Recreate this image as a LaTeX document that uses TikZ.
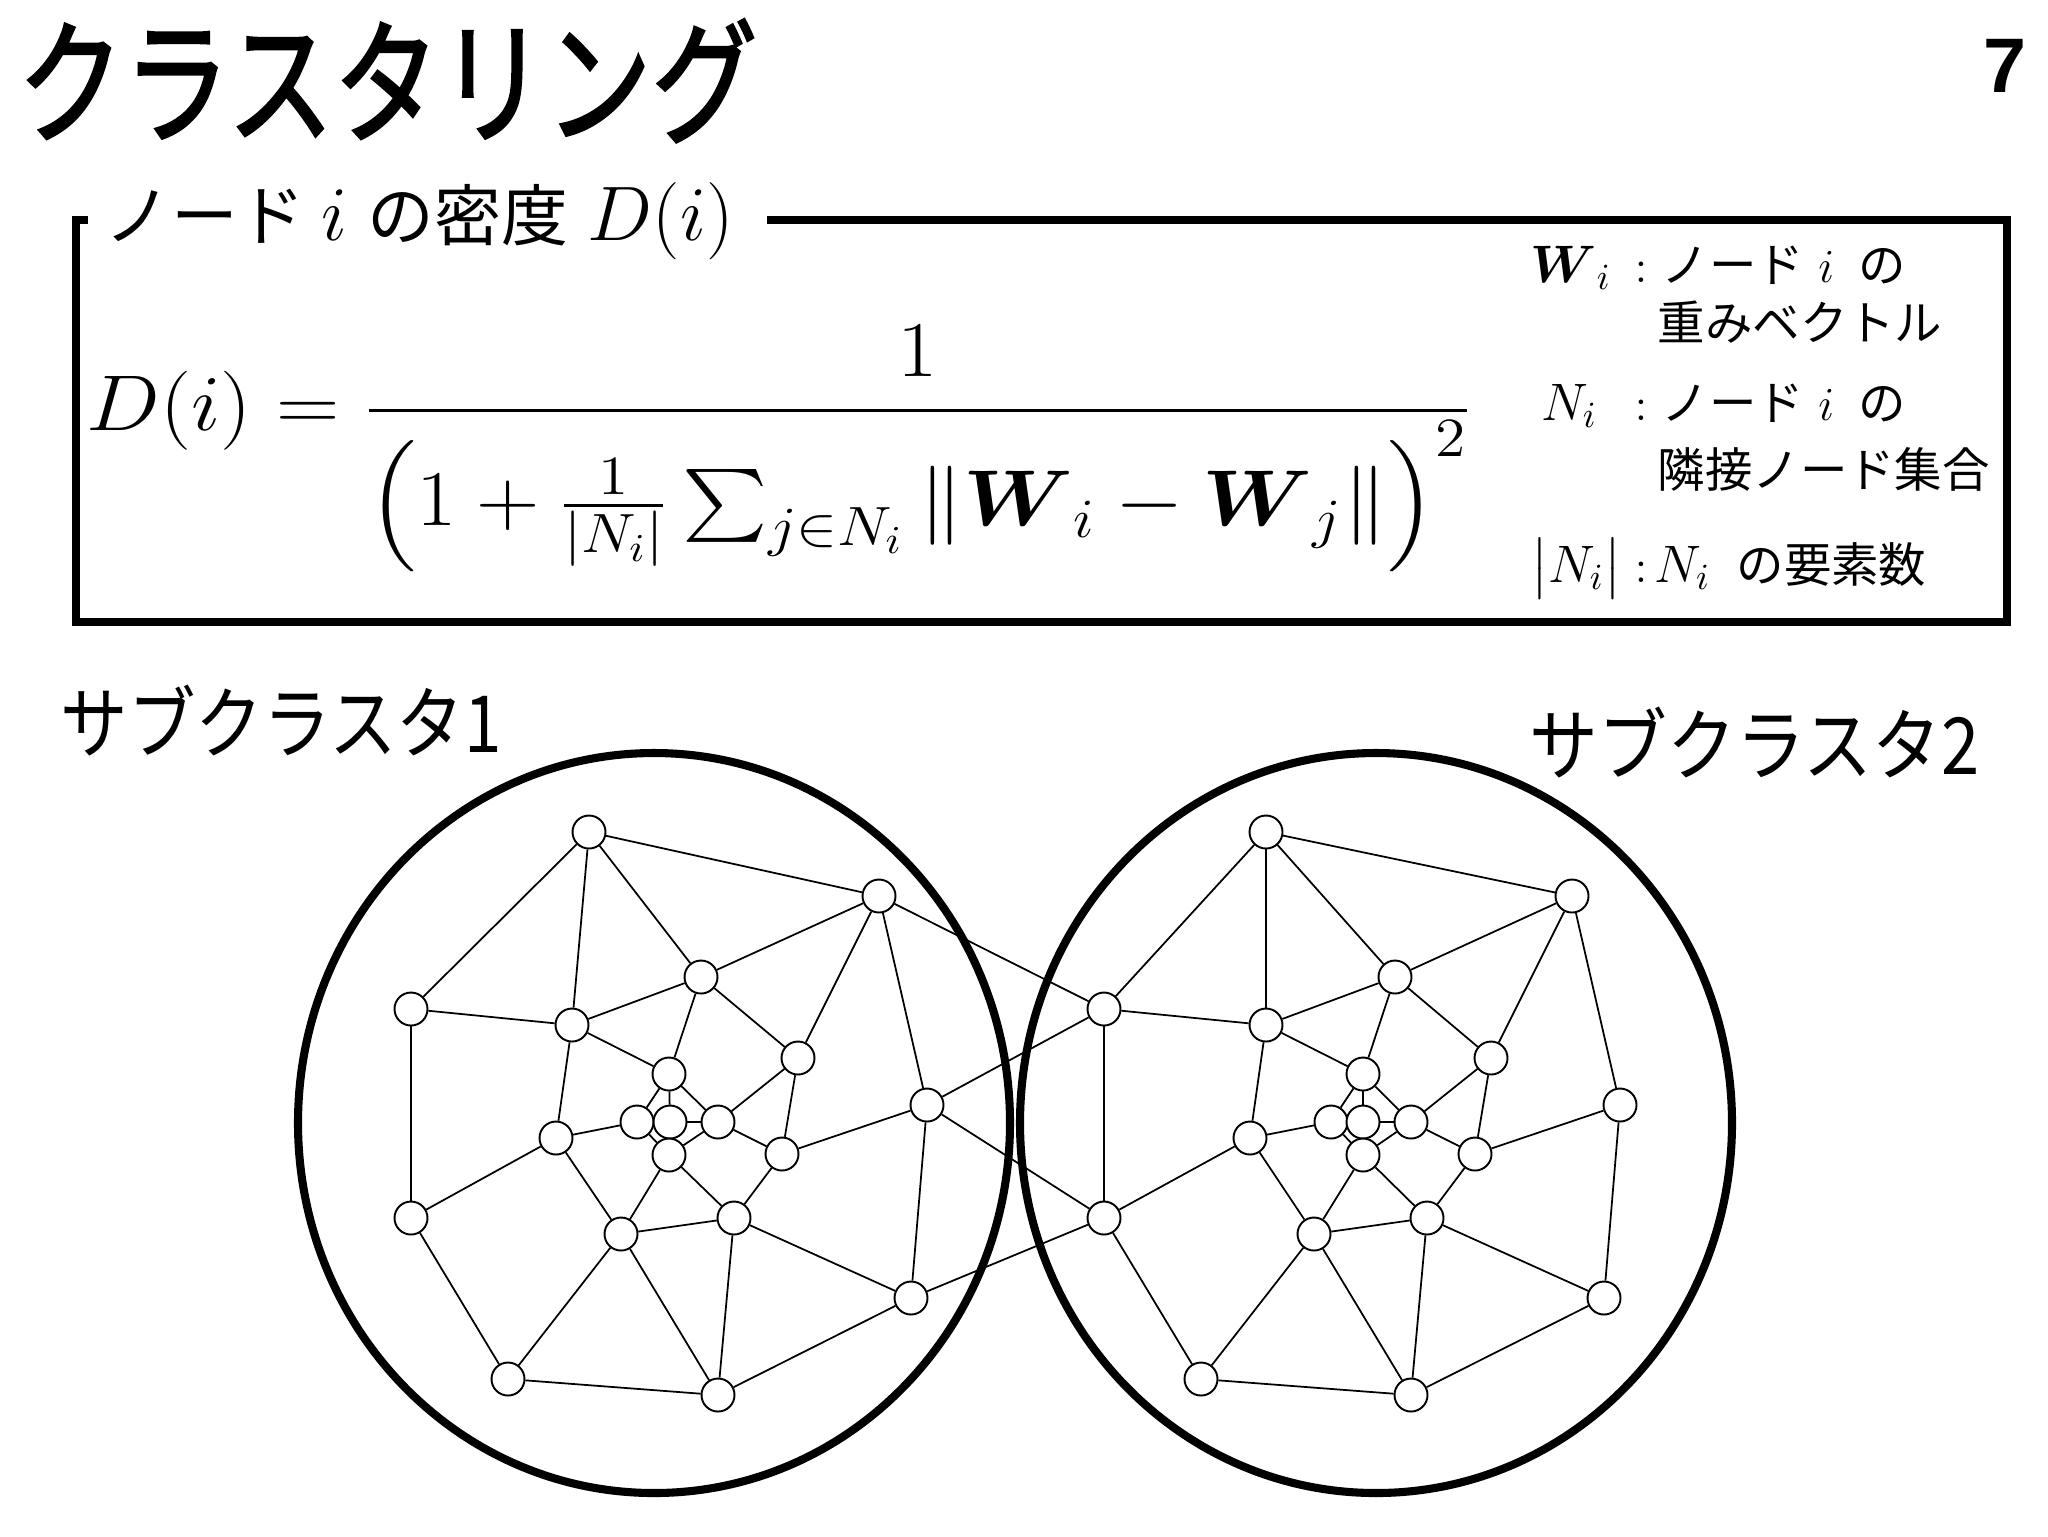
\RequirePackage{fix-cm}
\documentclass[tikz,border=0pt]{standalone}
\usepackage{amsmath}
\usepackage{graphicx}
\usepackage{fontspec}
\setmainfont{Noto Sans CJK JP}
\newfontfamily\titlefont{Noto Sans CJK JP}[FakeBold=2]
\newfontfamily\pagefont{Liberation Sans}
\usetikzlibrary{shapes.geometric,positioning}

\begin{document}
\begin{tikzpicture}[x=0.1mm,y=-0.1mm]

\tikzset{netnode/.style={shape=circle,draw=black,fill=white,line width=0.55pt,inner sep=0pt,minimum size=3.3mm},
netedge/.style={line width=0.5pt},
ringnode/.style={shape=ellipse,draw=black,line width=2.3pt,inner sep=0pt,minimum width=71.2mm,minimum height=74mm},
boxline/.style={line width=2.2pt},
jplabel/.style={anchor=base west,inner sep=0pt},
symlabel/.style={anchor=base east,inner sep=0pt},
legendfont/.style={font=\fontsize{13.5}{20}\selectfont}}

\useasboundingbox (0,0) rectangle (2048,1536);

% Title and page number
\node[jplabel,font=\titlefont\fontsize{29}{34}\selectfont] (title) at (17,133) {\scalebox{1.04}[1.33]{クラスタリング}};
\node[symlabel,font=\pagefont\bfseries\fontsize{22}{26}\selectfont] (pageno) at (2027,92) {7};

% Density box
\draw[boxline] (88,220) -- (76,220) -- (76,622) -- (2007,622) -- (2007,220) -- (767,220);
\node[jplabel,font=\fontsize{19}{23}\selectfont] (boxtitle) at (104,240)
  {ノード\hspace{.25em}{\fontsize{22}{26}\selectfont$i$}\hspace{.3em}の密度\hspace{.3em}{\fontsize{22}{26}\selectfont$D(i)$}};
\node[jplabel,font=\fontsize{22.5}{27}\selectfont] (formula) at (86,430)
  {\scalebox{1.11}[1]{$\displaystyle D(i)=\frac{1}{\Bigl(1+\frac{1}{|N_i|}\sum_{j\in N_i}\|\boldsymbol{W}_i-\boldsymbol{W}_j\|\Bigr)^2}$}};

% Legend
\node[symlabel,font=\fontsize{15}{20}\selectfont] (wsym) at (1612,282) {$\boldsymbol{W}_i$};
\node[jplabel,legendfont] (wtxt) at (1634,282) {$:$\hspace{.3em}ノード\hspace{.3em}$i$\hspace{.5em}の};
\node[jplabel,legendfont] (wtxtb) at (1657,340) {重みベクトル};
\node[symlabel,font=\fontsize{15}{20}\selectfont] (nsym) at (1598,420) {$N_i$};
\node[jplabel,legendfont] (ntxt) at (1634,420) {$:$\hspace{.3em}ノード\hspace{.3em}$i$\hspace{.5em}の};
\node[jplabel,legendfont] (ntxtb) at (1657,487) {隣接ノード集合};
\node[symlabel,font=\fontsize{15}{20}\selectfont] (cardsym) at (1622,582) {$\bigl|N_i\bigr|$};
\node[jplabel,legendfont] (cardtxt) at (1634,582) {$:$\hspace{.15em}{\fontsize{15}{20}\selectfont$N_i$}\hspace{.55em}の要素数};

% Sub-cluster labels
\node[jplabel,font=\fontsize{19}{23}\selectfont] (sub1label) at (60,752) {\scalebox{1.01}[1.18]{サブクラスタ1}};
\node[jplabel,font=\fontsize{19}{23}\selectfont] (sub2label) at (1529,774) {\scalebox{1.03}[1.18]{サブクラスタ2}};

% Sub-cluster rings
\node[ringnode] (ring1) at (654,1123) {};
\node[ringnode] (ring2) at (1376,1123) {};

% Network nodes
\foreach \n/\x/\y in {1/589/832, 2/879/896, 3/411/1009, 4/572/1025, 5/701/977, 6/798/1058, 7/669/1074,
  8/637/1122, 9/670/1122, 10/718/1122, 11/669/1155, 12/556/1138, 13/782/1154, 14/927/1105,
  15/411/1218, 16/734/1218, 17/621/1234, 18/911/1298, 19/508/1379, 20/718/1395}
  \node[netnode] (a\n) at (\x,\y) {};
\foreach \n/\x/\y in {1/1266/832, 2/1572/896, 3/1104/1009, 4/1266/1025, 5/1395/977, 6/1491/1058, 7/1363/1074,
  8/1331/1122, 9/1363/1122, 10/1411/1122, 11/1363/1155, 12/1250/1138, 13/1475/1154, 14/1620/1105,
  15/1104/1218, 16/1427/1218, 17/1314/1234, 18/1604/1298, 19/1201/1379, 20/1411/1395}
  \node[netnode] (b\n) at (\x,\y) {};

% Edges inside each sub-cluster
\foreach \c in {a,b} {
  \foreach \u/\v in {1/2,1/3,1/4,1/5,2/5,2/6,2/14,3/4,3/15,4/5,4/7,4/12,5/7,5/6,6/10,6/13,7/8,7/9,7/10,
    8/12,8/11,9/10,10/11,12/15,12/17,13/10,13/14,13/16,14/18,15/19,16/17,16/18,16/20,16/11,17/11,
    17/19,17/20,19/20,20/18}
    \draw[netedge] (\c\u) -- (\c\v);
}

% Edges between the sub-clusters
\draw[netedge] (a2) -- (b3); \draw[netedge] (a14) -- (b3);
\draw[netedge] (a14) -- (b15); \draw[netedge] (a18) -- (b15);

\end{tikzpicture}
\end{document}
